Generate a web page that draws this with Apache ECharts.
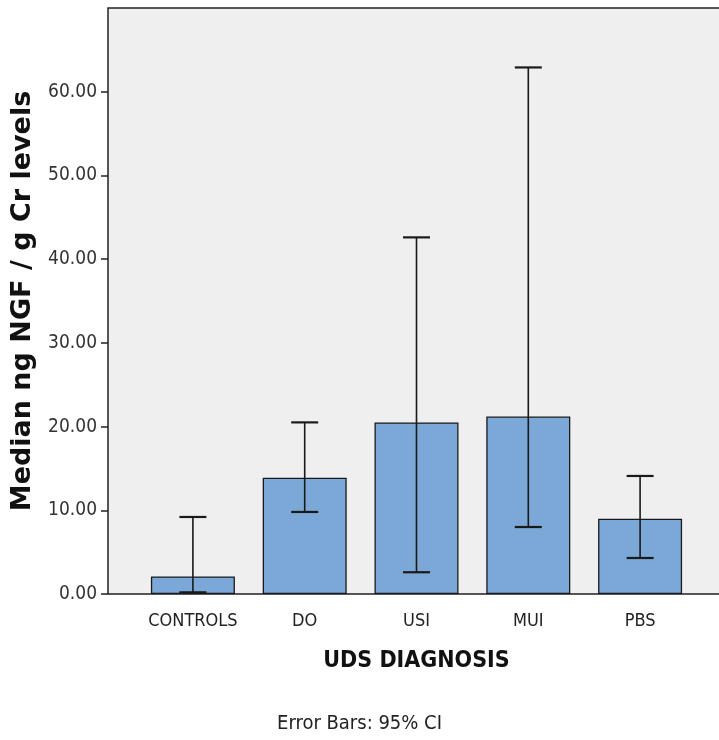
<!DOCTYPE html>
<html>
<head>
<meta charset="utf-8">
<script src="https://cdn.jsdelivr.net/npm/echarts@6/dist/echarts.min.js"></script>
<style>
  html, body { margin: 0; padding: 0; background: #fff; }
  #chartmain { width: 719px; height: 740px; }
</style>
</head>
<body>
<div id="chartmain"></div>
<script>
var categories = ['CONTROLS', 'DO', 'USI', 'MUI', 'PBS'];
var medians = [2.1, 13.9, 20.5, 21.2, 9.0];
var ciLow = [0.2, 9.8, 2.6, 8.0, 4.3];
var ciHigh = [9.2, 20.5, 42.6, 62.9, 14.1];
var yTicks = [0, 10, 20, 30, 40, 50, 60, 70];

var narrow = "'Liberation Sans Narrow', 'DejaVu Sans Condensed', sans-serif";

var errData = [];
for (var i = 0; i < categories.length; i++) {
	errData.push([i, ciLow[i], ciHigh[i]]);
}

var option = {
	animation : false,
	backgroundColor : '#ffffff',
	title : {
		text : 'Error Bars: 95% CI',
		left : 'center',
		top : 709,
		textStyle : {
			fontFamily : narrow,
			fontSize : 20,
			fontWeight : 'normal',
			color : '#222'
		}
	},
	grid : [ {
		// frame and background, cut at right edge like the original
		left : 108,
		right : -30,
		top : 8,
		bottom : 146,
		outerBoundsMode : 'none',
		show : true,
		backgroundColor : '#efefef',
		borderColor : '#222',
		borderWidth : 1.5
	}, {
		left : 137,
		right : 23,
		top : 8,
		bottom : 146,
		outerBoundsMode : 'none'
	} ],
	xAxis : [ {
		gridIndex : 0,
		type : 'value',
		show : false
	}, {
		gridIndex : 1,
		type : 'category',
		data : categories,
		axisLine : { show : false },
		axisTick : {
			alignWithLabel : true,
			length : 6,
			lineStyle : { color : '#222', width : 1.5 }
		},
		axisLabel : {
			interval : 0,
			margin : 18,
			fontFamily : narrow,
			fontSize : 18,
			color : '#222'
		},
		name : 'UDS DIAGNOSIS',
		nameLocation : 'middle',
		nameGap : 56,
		nameTextStyle : {
			fontFamily : narrow,
			fontSize : 23,
			fontWeight : 'bold',
			color : '#111'
		}
	} ],
	yAxis : [ {
		gridIndex : 0,
		type : 'value',
		show : false
	}, {
		gridIndex : 1,
		type : 'value',
		min : yTicks[0],
		max : yTicks[yTicks.length - 1],
		interval : 10,
		offset : 29,
		splitLine : { show : false },
		axisLine : { show : false },
		axisTick : {
			show : true,
			length : 7,
			lineStyle : { color : '#222', width : 1.5 }
		},
		axisLabel : {
			showMaxLabel : false,
			margin : 11,
			padding : [ 6, 0, 0, 0 ],
			fontFamily : narrow,
			fontSize : 19,
			color : '#333',
			formatter : function(v) {
				return v.toFixed(2);
			}
		},
		name : 'Median ng NGF / g Cr levels',
		nameLocation : 'middle',
		nameGap : 72,
		nameTextStyle : {
			fontFamily : "'DejaVu Sans', sans-serif",
			fontSize : 27,
			fontWeight : 'bold',
			color : '#111'
		}
	} ],
	series : [ {
		type : 'bar',
		xAxisIndex : 1,
		yAxisIndex : 1,
		data : medians,
		barWidth : 84,
		itemStyle : {
			color : '#7ba8d6',
			borderColor : '#1a1a1a',
			borderWidth : 1.3
		},
		z : 2
	}, {
		type : 'custom',
		xAxisIndex : 1,
		yAxisIndex : 1,
		data : errData,
		z : 3,
		renderItem : function(params, api) {
			var lo = api.coord([ api.value(0), api.value(1) ]);
			var hi = api.coord([ api.value(0), api.value(2) ]);
			var half = 13.5;
			var style = { stroke : '#1a1a1a', lineWidth : 1.6 };
			return {
				type : 'group',
				children : [ {
					type : 'line',
					shape : { x1 : hi[0], y1 : hi[1], x2 : lo[0], y2 : lo[1] },
					style : style
				}, {
					type : 'line',
					shape : { x1 : hi[0] - half, y1 : hi[1], x2 : hi[0] + half, y2 : hi[1] },
					style : { stroke : '#1a1a1a', lineWidth : 2.2 }
				}, {
					type : 'line',
					shape : { x1 : lo[0] - half, y1 : lo[1], x2 : lo[0] + half, y2 : lo[1] },
					style : { stroke : '#1a1a1a', lineWidth : 2.2 }
				} ]
			};
		}
	} ]
};

var myChart = echarts.init(document.getElementById('chartmain'));
myChart.setOption(option);
</script>
</body>
</html>
